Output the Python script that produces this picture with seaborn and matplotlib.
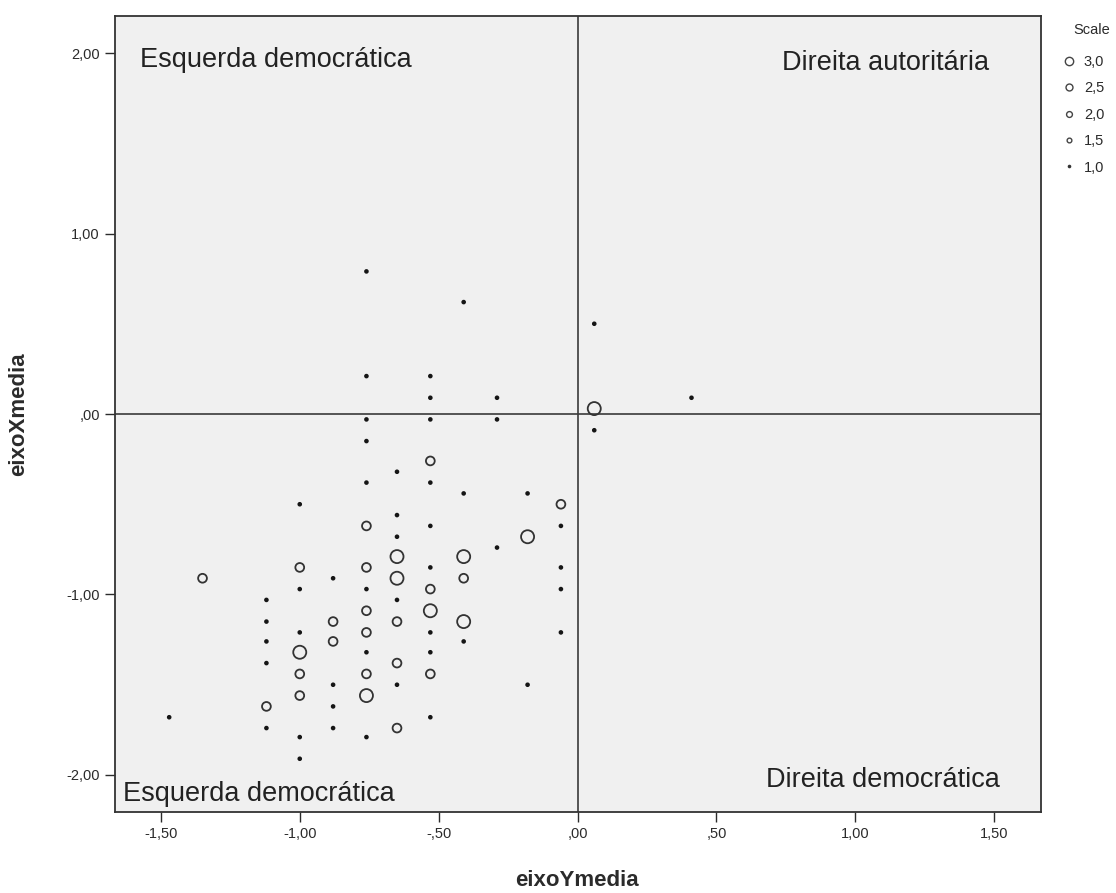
import matplotlib
matplotlib.use("Agg")
import matplotlib.pyplot as plt
from matplotlib.lines import Line2D
import numpy as np
import pandas as pd
import seaborn as sns

# eixoYmedia (horizontal), eixoXmedia (vertical) and the Scale value of each point
eixo_y = [
    -1.47,
    -1.35,
    -1.12, -1.12, -1.12, -1.12, -1.12, -1.12,
    -1.00, -1.00, -1.00, -1.00, -1.00, -1.00, -1.00, -1.00, -1.00,
    -0.88, -0.88, -0.88, -0.88, -0.88, -0.88,
    -0.76, -0.76, -0.76, -0.76, -0.76, -0.76, -0.76, -0.76, -0.76, -0.76, -0.76, -0.76, -0.76, -0.76,
    -0.65, -0.65, -0.65, -0.65, -0.65, -0.65, -0.65, -0.65, -0.65, -0.65,
    -0.53, -0.53, -0.53, -0.53, -0.53, -0.53, -0.53, -0.53, -0.53, -0.53, -0.53, -0.53, -0.53,
    -0.41, -0.41, -0.41, -0.41, -0.41, -0.41,
    -0.29, -0.29, -0.29,
    -0.18, -0.18, -0.18,
    -0.06, -0.06, -0.06, -0.06, -0.06,
    0.06, 0.06, 0.06,
    0.41,
]
eixo_x = [
    -1.68,
    -0.91,
    -1.03, -1.15, -1.26, -1.38, -1.62, -1.74,
    -0.50, -0.85, -0.97, -1.21, -1.32, -1.44, -1.56, -1.79, -1.91,
    -0.91, -1.15, -1.26, -1.50, -1.62, -1.74,
    0.79, 0.21, -0.03, -0.15, -0.38, -0.62, -0.85, -0.97, -1.09, -1.21, -1.32, -1.44, -1.56, -1.79,
    -0.32, -0.56, -0.68, -0.79, -0.91, -1.03, -1.15, -1.38, -1.50, -1.74,
    0.21, 0.09, -0.03, -0.26, -0.38, -0.62, -0.85, -0.97, -1.09, -1.21, -1.32, -1.44, -1.68,
    0.62, -0.44, -0.79, -0.91, -1.15, -1.26,
    0.09, -0.03, -0.74,
    -0.44, -0.68, -1.50,
    -0.50, -0.62, -0.85, -0.97, -1.21,
    0.50, 0.03, -0.09,
    0.09,
]
scale = [
    1,
    2,
    1, 1, 1, 1, 2, 1,
    1, 2, 1, 1, 3, 2, 2, 1, 1,
    1, 2, 2, 1, 1, 1,
    1, 1, 1, 1, 1, 2, 2, 1, 2, 2, 1, 2, 3, 1,
    1, 1, 1, 3, 3, 1, 2, 2, 1, 2,
    1, 1, 1, 2, 1, 1, 1, 2, 3, 1, 1, 2, 1,
    1, 1, 3, 2, 3, 1,
    1, 1, 1,
    1, 3, 1,
    2, 1, 1, 1, 1,
    1, 3, 1,
    1,
]

x_ticks = [-1.5, -1.0, -0.5, 0.0, 0.5, 1.0, 1.5]
x_ticklabels = ["-1,50", "-1,00", "-,50", ",00", ",50", "1,00", "1,50"]
y_ticks = [-2.0, -1.0, 0.0, 1.0, 2.0]
y_ticklabels = ["-2,00", "-1,00", ",00", "1,00", "2,00"]

legend_values = [3.0, 2.5, 2.0, 1.5, 1.0]
legend_labels = ["3,0", "2,5", "2,0", "1,5", "1,0"]

df = pd.DataFrame({"eixoYmedia": eixo_y, "eixoXmedia": eixo_x, "Scale": scale})

sns.set_theme(style="ticks")
plt.rcParams["font.family"] = ["Liberation Sans", "DejaVu Sans"]

fig = plt.figure(figsize=(11.16, 8.93), dpi=100)
ax = fig.add_axes([115 / 1116, 1 - 812 / 893, 926 / 1116, 796 / 893])
ax.set_facecolor("#f0f0f0")

ink = "#2b2b2b"

# reference lines through the origin
ax.axhline(0, color="#3a3a3a", lw=1.2, zorder=1)
ax.axvline(0, color="#3a3a3a", lw=1.2, zorder=1)

dots = df[df["Scale"] == 1]
rings = df[df["Scale"] > 1]

sns.scatterplot(data=dots, x="eixoYmedia", y="eixoXmedia", s=11,
                color="#151515", edgecolor="none", legend=False, ax=ax, zorder=3)
sns.scatterplot(data=rings, x="eixoYmedia", y="eixoXmedia", size="Scale",
                sizes={2: 40, 3: 88}, color="#333333", legend=False, ax=ax, zorder=3)
ring_coll = ax.collections[-1]
ring_coll.set_facecolor("none")
ring_coll.set_edgecolor("#333333")
ring_coll.set_linewidth(1.3)

ax.set_xlim(-1.665, 1.668)
ax.set_ylim(-2.205, 2.205)

ax.set_xticks(x_ticks)
ax.set_xticklabels(x_ticklabels)
ax.set_yticks(y_ticks)
ax.set_yticklabels(y_ticklabels)
ax.tick_params(axis="both", direction="out", length=7, width=1.0, color=ink,
               labelsize=10.5, labelcolor=ink, pad=4)

for sp in ax.spines.values():
    sp.set_visible(True)
    sp.set_color("#333333")
    sp.set_linewidth(1.3)

ax.set_xlabel("eixoYmedia", fontsize=16, fontweight="bold", color=ink)
ax.set_ylabel("eixoXmedia", fontsize=16, fontweight="bold", color=ink)
ax.xaxis.set_label_coords(0.499, -0.073)
ax.yaxis.set_label_coords(-0.093, 0.5)

# quadrant captions
qkw = dict(fontsize=19.5, color="#222222", transform=ax.transAxes)
ax.text(0.027, 0.945, "Esquerda democrática", ha="left", va="center", **qkw)
ax.text(0.944, 0.941, "Direita autoritária", ha="right", va="center", **qkw)
ax.text(0.009, 0.022, "Esquerda democrática", ha="left", va="center", **qkw)
ax.text(0.956, 0.040, "Direita democrática", ha="right", va="center", **qkw)

# size legend: title drawn on its own, entries below it
fig.text(1073 / 1116, 1 - 30 / 893, "Scale", ha="left", va="center",
         fontsize=10.5, color=ink)
leg_sizes = {3.0: 6.0, 2.5: 5.0, 2.0: 4.2, 1.5: 3.4, 1.0: 2.6}
handles = []
for v in legend_values:
    if v == 1.0:
        h = Line2D([], [], ls="", marker="o", markersize=leg_sizes[v],
                   markerfacecolor="#333333", markeredgecolor="none")
    else:
        h = Line2D([], [], ls="", marker="o", markersize=leg_sizes[v],
                   markerfacecolor="none", markeredgecolor="#444444",
                   markeredgewidth=1.0)
    handles.append(h)
leg = fig.legend(handles, legend_labels, loc="upper left",
                 bbox_to_anchor=(1062 / 1116, 1 - 55 / 893), frameon=False,
                 fontsize=10.5, handlelength=0.9,
                 handletextpad=0.6, labelspacing=0.85, borderpad=0,
                 borderaxespad=0)
for t in leg.get_texts():
    t.set_color(ink)

fig.savefig("out.png", dpi=100, facecolor="white")
